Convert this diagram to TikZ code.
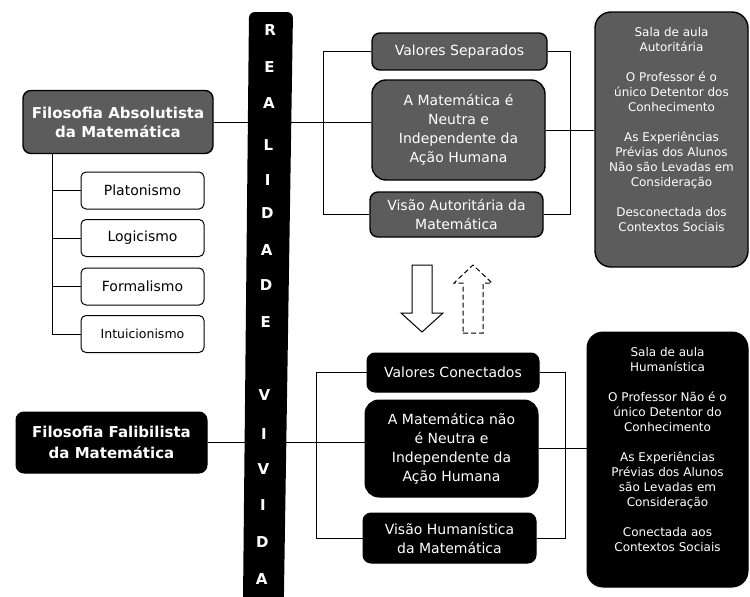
\documentclass[tikz,border=0pt]{standalone}
\usepackage{fontspec}
\setmainfont{DejaVu Sans}
\begin{document}
\begin{tikzpicture}[x=1pt,y=-1pt,
  conn/.style={line width=0.9pt},
  gbox/.style={draw=black,line width=1.4pt,fill=black!64,text=white,rounded corners=8pt,inner sep=0pt,align=center,font=\fontsize{14}{19}\selectfont},
  kbox/.style={draw=black,line width=1pt,fill=black,text=white,rounded corners=8pt,inner sep=0pt,align=center,font=\fontsize{14}{19}\selectfont},
  wbox/.style={draw=black,line width=1pt,fill=white,rounded corners=5pt,inner sep=0pt,minimum width=123pt,minimum height=37pt,font=\fontsize{14}{17}\selectfont},
  barletter/.style={text=white,font=\bfseries\fontsize{15}{15}\selectfont,inner sep=0pt},
  bigarrow/.style={draw=black,line width=1pt,fill=white,line join=miter}
]
\useasboundingbox (0,0) rectangle (750,597);

% left side
\node[gbox,font=\bfseries\fontsize{15}{19}\selectfont,minimum width=190pt,minimum height=63pt] (abs) at (118,122) {Filosofia Absolutista\\da Matemática};
\node[kbox,font=\bfseries\fontsize{15}{21}\selectfont,minimum width=191pt,minimum height=61pt] (fal) at (111.5,442.5) {Filosofia Falibilista\\da Matemática};

\node[wbox] (pla) at (142.5,190.5) {Platonismo};
\node[wbox] (log) at (142.5,238) {Logicismo};
\node[wbox] (for) at (142.5,286.5) {Formalismo};
\node[wbox,font=\fontsize{12.5}{15}\selectfont] (int) at (142.5,334) {Intuicionismo};

\coordinate (lv) at (52,0);
\draw[conn] (abs.south -| lv) -- (int.west -| lv) -- (int.west);
\draw[conn] (pla.west -| lv) -- (pla.west);
\draw[conn] (log.west -| lv) -- (log.west);
\draw[conn] (for.west -| lv) -- (for.west);

% top middle
\node[gbox,minimum width=175pt,minimum height=37pt] (vs) at (459.5,51.5) {Valores Separados};
\node[gbox,minimum width=173pt,minimum height=100pt,rounded corners=14pt] (mn) at (458.5,130) {A Matemática é\\Neutra e\\Independente da\\Ação Humana};
\node[gbox,minimum width=173pt,minimum height=45pt] (va) at (456.5,214.5) {Visão Autoritária da\\Matemática};
\node[gbox,font=\fontsize{12}{15}\selectfont,minimum width=153pt,minimum height=255pt,rounded corners=16pt] (sa) at (671.5,139.5)
  {Sala de aula\\Autoritária\\[15pt]O Professor é o\\único Detentor dos\\Conhecimento\\[15pt]As Experiências\\Prévias dos Alunos\\Não são Levadas em\\Consideração\\[15pt]Desconectada dos\\Contextos Sociais\\[5pt]\mbox{}};

% bottom middle
\node[kbox,minimum width=172pt,minimum height=39pt] (vc) at (453,372.5) {Valores Conectados};
\node[kbox,minimum width=173pt,minimum height=97pt,rounded corners=14pt] (mnn) at (451.5,448.5) {A Matemática não\\é Neutra e\\Independente da\\Ação Humana};
\node[kbox,minimum width=173pt,minimum height=50pt] (vh) at (449.5,538) {Visão Humanística\\da Matemática};
\node[kbox,font=\fontsize{12}{15}\selectfont,minimum width=161pt,minimum height=255pt,rounded corners=16pt] (sh) at (667.5,459.5)
  {Sala de aula\\Humanística\\[15pt]O Professor Não é o\\único Detentor do\\Conhecimento\\[15pt]As Experiências\\Prévias dos Alunos\\são Levadas em\\Consideração\\[15pt]Conectada aos\\Contextos Sociais\\[5pt]\mbox{}};

% brackets and connectors
\coordinate (tl) at (323,0);
\coordinate (tr) at (570,0);
\coordinate (bl) at (316,0);
\coordinate (br) at (565,0);
\draw[conn] (vs.west) -- (vs.west -| tl) -- (va.west -| tl) -- (va.west);
\draw[conn] (vs.east) -- (vs.east -| tr) -- (va.east -| tr) -- (va.east);
\draw[conn] (abs.east) -- (abs.east -| mn.west);
\draw[conn] (mn.east) -- (mn.east -| sa.west);
\draw[conn] (vc.west) -- (vc.west -| bl) -- (vh.west -| bl) -- (vh.west);
\draw[conn] (vc.east) -- (vc.east -| br) -- (vh.east -| br) -- (vh.east);
\draw[conn] (fal.east) -- (fal.east -| mnn.west);
\draw[conn] (mnn.east) -- (mnn.east -| sh.west);

% vertical bar
\fill[black,rounded corners=6pt] (242.9,610) -- (249,12) -- (293,12) -- (283.7,610) -- cycle;
\foreach \c/\yy [count=\i] in {R/30,E/67,A/103,L/145,I/180,D/213,A/250,D/285,E/322,V/395,I/434,V/469,I/505,D/542,A/579}
  \node[barletter] (lt\i) at ({270.5-9*\yy/597},\yy) {\c};

% arrows
\draw[bigarrow] (412,265) -- (432,265) -- (432,313) -- (443,313) -- (422,332) -- (401,313) -- (412,313) -- cycle;
\draw[bigarrow,dash pattern=on 5pt off 3pt] (463,333) -- (483,333) -- (483,283) -- (492,283) -- (473,265) -- (454,283) -- (463,283) -- cycle;
\end{tikzpicture}
\end{document}
